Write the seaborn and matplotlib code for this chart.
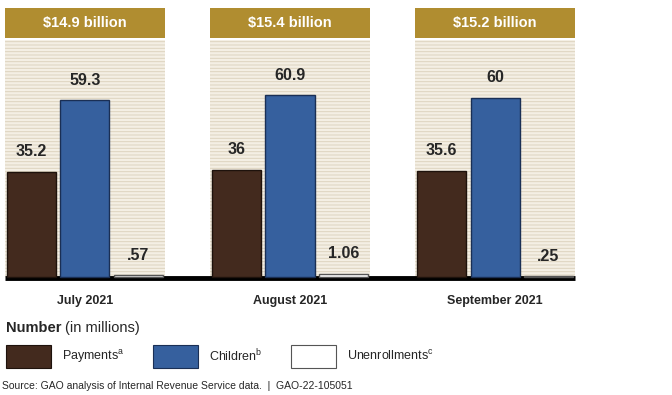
import matplotlib
matplotlib.use("Agg")
import matplotlib.pyplot as plt
import seaborn as sns
import pandas as pd
from matplotlib.patches import Rectangle

months = ["July 2021", "August 2021", "September 2021"]
totals = ["$14.9 billion", "$15.4 billion", "$15.2 billion"]
series = ["Payments", "Children", "Unenrollments"]
payments = [35.2, 36.0, 35.6]
children = [59.3, 60.9, 60.0]
unenroll = [0.57, 1.06, 0.25]
payments_lbl = ["35.2", "36", "35.6"]
children_lbl = ["59.3", "60.9", "60"]
unenroll_lbl = [".57", "1.06", ".25"]
legend_lbl = [r"Payments$^{\mathrm{a}}$", r"Children$^{\mathrm{b}}$", r"Unenrollments$^{\mathrm{c}}$"]

colores = {"Payments": "#432a1e", "Children": "#36609e", "Unenrollments": "#ffffff"}
bordes = {"Payments": "#1e120c", "Children": "#1a2f55", "Unenrollments": "#555555"}

df = pd.DataFrame({
    "mes": months * 3,
    "serie": [s for s in series for _ in months],
    "valor": payments + children + unenroll,
})

sns.set_style("white")
plt.rcParams["font.family"] = ["Liberation Sans", "DejaVu Sans"]
plt.rcParams["mathtext.fontset"] = "custom"
plt.rcParams["mathtext.rm"] = "Liberation Sans"
plt.rcParams["hatch.linewidth"] = 0.7

fig = plt.figure(figsize=(6.72, 3.95), dpi=100)
ax = fig.add_axes([5 / 672, 118 / 395, 570 / 672, 270 / 395])

# fondo rayado y cabecera dorada de cada panel
for i, t in enumerate(totals):
    ax.add_patch(Rectangle((i - 0.39, 0), 0.78, 79.5, facecolor="#f4efe4",
                           edgecolor="#ddd3bf", hatch="-----", linewidth=0, zorder=0))
    ax.add_patch(Rectangle((i - 0.39, 80.1), 0.78, 10, facecolor="#b08d30",
                           edgecolor="none", zorder=1))
    ax.text(i, 85.1, t.replace("$", r"\$"), ha="center", va="center", color="white",
            fontsize=10.5, fontweight="bold", zorder=2)

sns.barplot(data=df, x="mes", y="valor", hue="serie", order=months, hue_order=series,
            palette=colores, saturation=1, width=0.78, gap=0.08, ax=ax, legend=False,
            zorder=3, linewidth=1)

etiquetas = [payments_lbl, children_lbl, unenroll_lbl]
for cont, s, lbl in zip(ax.containers, series, etiquetas):
    for p in cont:
        p.set_edgecolor(bordes[s])
        p.set_clip_on(False)
    ax.bar_label(cont, labels=lbl, padding=9, fontsize=11.5, fontweight="bold")

# linea base gruesa, por debajo de las barras
ax.axhline(-0.5, color="black", linewidth=3.5, zorder=2.5, clip_on=False,
           solid_capstyle="butt")
ax.set_xlim(-0.39, 2.39)
ax.set_ylim(0, 90.5)
ax.set_xlabel("")
ax.set_ylabel("")
ax.set_yticks([])
ax.tick_params(axis="x", length=0, pad=13)
ax.set_xticks(range(3))
ax.set_xticklabels(months, fontsize=9, fontweight="bold")
sns.despine(ax=ax, left=True, bottom=True)

# leyenda
fig.text(6 / 672, 1 - 328 / 395, "Number", fontsize=10.5, fontweight="bold", va="center")
fig.text(65 / 672, 1 - 328 / 395, "(in millions)", fontsize=10.5, va="center")
xs_caja = [6, 153, 291]
for x0, s, l in zip(xs_caja, series, legend_lbl):
    fig.add_artist(Rectangle((x0 / 672, 1 - 368 / 395), 45 / 672, 23 / 395,
                             facecolor=colores[s], edgecolor=bordes[s], linewidth=0.8,
                             transform=fig.transFigure))
    fig.text((x0 + 56) / 672, 1 - 356 / 395, l, fontsize=9, va="center")

fig.text(2 / 672, 1 - 386 / 395,
         "Source: GAO analysis of Internal Revenue Service data.  |  GAO-22-105051",
         fontsize=7.5, va="center")

fig.savefig("out.png", dpi=100)
